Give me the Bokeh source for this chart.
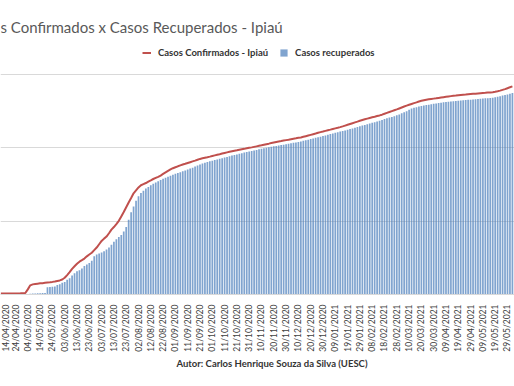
import pandas as pd
from bokeh.plotting import figure
from bokeh.models import (Range1d, FixedTicker, Grid, Label, Legend, LegendItem,
                          ColumnDataSource, DatetimeTickFormatter, Title)
from bokeh.embed import file_html
from bokeh.resources import INLINE

title_text = "s Confirmados x Casos Recuperados - Ipiaú"
author_text = "Autor: Carlos Henrique Souza da Silva  (UESC)"
series_names = ["Casos Confirmados - Ipiaú", "Casos recuperados"]

first_date = "2020-04-12"
step_days = 2

confirmados = [
    12, 12, 13, 13, 14, 14, 15, 15, 16, 18,
    21, 70, 125, 138, 144, 148, 152, 155, 159, 163,
    167, 172, 178, 185, 192, 205, 228, 265, 305, 350,
    385, 420, 448, 468, 490, 520, 545, 570, 605, 640,
    685, 730, 762, 790, 835, 885, 920, 960, 1005, 1065,
    1125, 1190, 1255, 1315, 1380, 1420, 1460, 1490, 1505, 1520,
    1540, 1557, 1575, 1590, 1605, 1622, 1644, 1665, 1685, 1705,
    1722, 1735, 1748, 1760, 1772, 1782, 1793, 1804, 1815, 1826,
    1838, 1849, 1857, 1865, 1872, 1880, 1889, 1897, 1905, 1913,
    1922, 1930, 1938, 1946, 1953, 1960, 1966, 1973, 1980, 1986,
    1993, 2000, 2006, 2013, 2020, 2027, 2034, 2042, 2050, 2057,
    2065, 2072, 2079, 2086, 2092, 2099, 2105, 2111, 2118, 2125,
    2130, 2136, 2141, 2150, 2159, 2168, 2177, 2186, 2195, 2205,
    2214, 2222, 2231, 2240, 2248, 2257, 2265, 2273, 2282, 2292,
    2303, 2314, 2325, 2336, 2347, 2358, 2370, 2380, 2389, 2398,
    2407, 2416, 2424, 2433, 2442, 2452, 2464, 2476, 2488, 2500,
    2512, 2524, 2537, 2550, 2563, 2575, 2587, 2598, 2609, 2620,
    2632, 2641, 2649, 2656, 2662, 2667, 2671, 2675, 2680, 2685,
    2690, 2695, 2700, 2705, 2710, 2713, 2717, 2721, 2724, 2727,
    2731, 2734, 2737, 2739, 2742, 2745, 2748, 2750, 2753, 2756,
    2759, 2765, 2772, 2780, 2790, 2800, 2813, 2826, 2838,
]

recuperados = [
    0, 0, 0, 0, 0, 0, 0, 0, 0, 0,
    5, 8, 10, 12, 14, 16, 18, 20, 22, 100,
    102, 105, 108, 130, 140, 160, 170, 200, 222, 260,
    290, 318, 332, 355, 390, 410, 430, 460, 520, 545,
    558, 572, 590, 615, 640, 680, 720, 755, 785, 810,
    860, 920, 1020, 1120, 1200, 1280, 1340, 1385, 1415, 1445,
    1465, 1490, 1510, 1528, 1545, 1562, 1580, 1592, 1605, 1620,
    1632, 1645, 1656, 1668, 1680, 1692, 1705, 1718, 1730, 1745,
    1760, 1772, 1785, 1797, 1808, 1816, 1825, 1833, 1842, 1850,
    1858, 1867, 1876, 1886, 1894, 1902, 1910, 1918, 1926, 1935,
    1943, 1950, 1957, 1965, 1972, 1979, 1987, 1994, 2001, 2008,
    2014, 2020, 2026, 2031, 2037, 2043, 2050, 2056, 2062, 2068,
    2074, 2080, 2086, 2095, 2103, 2111, 2120, 2128, 2136, 2144,
    2152, 2160, 2169, 2178, 2187, 2196, 2205, 2213, 2221, 2229,
    2238, 2247, 2256, 2265, 2274, 2284, 2294, 2303, 2313, 2322,
    2332, 2341, 2350, 2360, 2370, 2381, 2392, 2403, 2413, 2422,
    2432, 2443, 2456, 2470, 2485, 2500, 2518, 2535, 2545, 2555,
    2563, 2571, 2578, 2584, 2589, 2594, 2600, 2605, 2610, 2615,
    2620, 2624, 2628, 2632, 2635, 2638, 2642, 2645, 2648, 2651,
    2654, 2657, 2660, 2663, 2666, 2669, 2672, 2675, 2677, 2680,
    2683, 2690, 2697, 2705, 2713, 2720, 2728, 2737, 2746,
]

tick_labels = [
    "14/04/2020", "24/04/2020", "04/05/2020", "14/05/2020", "24/05/2020",
    "03/06/2020", "13/06/2020", "23/06/2020", "03/07/2020", "13/07/2020",
    "23/07/2020", "02/08/2020", "12/08/2020", "22/08/2020", "01/09/2020",
    "11/09/2020", "21/09/2020", "01/10/2020", "11/10/2020", "21/10/2020",
    "31/10/2020", "10/11/2020", "20/11/2020", "30/11/2020", "10/12/2020",
    "20/12/2020", "30/12/2020", "09/01/2021", "19/01/2021", "29/01/2021",
    "08/02/2021", "18/02/2021", "28/02/2021", "10/03/2021", "20/03/2021",
    "30/03/2021", "09/04/2021", "19/04/2021", "29/04/2021", "09/05/2021",
    "19/05/2021", "29/05/2021",
]
y_grid_values = [1000, 2000, 3000]

dates = pd.date_range(first_date, periods=len(confirmados), freq=f"{step_days}D")
source = ColumnDataSource(dict(date=dates, conf=confirmados, rec=recuperados))

tick_dates = pd.to_datetime(tick_labels, format="%d/%m/%Y")
tick_ms = [int(t.value // 10**6) for t in tick_dates]
DAY = 86400000

x0 = tick_dates[0] - pd.Timedelta(hours=2.2 * 24)
x1 = tick_dates[0] + pd.Timedelta(hours=415.7 * 24)

# frame spans the whole upper area; top gridline (3000) sits 74px below frame top
p = figure(width=514, height=386, output_backend="svg", toolbar_location=None,
           x_axis_type="datetime", y_axis_location=None,
           x_range=Range1d(x0, x1), y_range=Range1d(0, 4009),
           min_border_left=0, min_border_right=0, min_border_top=0,
           min_border_bottom=92)
p.outline_line_color = None
p.background_fill_color = "white"
p.xgrid.visible = False
for g in p.ygrid:
    g.visible = False
p.add_layout(Grid(dimension=1, ticker=FixedTicker(ticks=y_grid_values),
                  grid_line_color="#D9D9D9", grid_line_width=1))

bars = p.vbar(x="date", top="rec", width=1.4 * DAY, source=source,
              fill_color="#4F81BD", fill_alpha=0.72, line_color=None)
line = p.line(x="date", y="conf", source=source, line_color="#C0504D",
              line_width=2)

ax = p.xaxis[0]
ax.ticker = FixedTicker(ticks=tick_ms)
ax.formatter = DatetimeTickFormatter(days="%d/%m/%Y", months="%d/%m/%Y",
                                     years="%d/%m/%Y")
ax.major_label_overrides = {m: s for m, s in zip(tick_ms, tick_labels)}
ax.major_label_orientation = 3.14159265 / 2
ax.major_label_text_font = "Lato"
ax.major_label_text_font_size = "8.5px"
ax.major_label_text_color = "#404040"
ax.major_label_standoff = 4
ax.axis_line_color = "#D9D9D9"
ax.major_tick_line_color = None
ax.minor_tick_line_color = None

legend = Legend(items=[LegendItem(label=series_names[0], renderers=[line]),
                       LegendItem(label=series_names[1], renderers=[bars])],
                orientation="horizontal", location=(142, 236),
                padding=0, margin=0, spacing=11, label_standoff=7,
                glyph_width=9, glyph_height=9, label_height=12,
                label_text_font="Lato", label_text_font_style="bold",
                label_text_font_size="9.5px", label_text_color="#333333",
                border_line_color=None, background_fill_alpha=0)
p.add_layout(legend, "center")

p.add_layout(Label(x=0, y=268, x_units="screen", y_units="screen",
                   text=title_text, text_font="Lato", text_font_size="15px",
                   text_color="#595959", text_baseline="middle", text_align="left"))

p.add_layout(Title(text=author_text, align="left", offset=176, standoff=2,
                   text_font="Lato", text_font_style="bold",
                   text_font_size="9.5px", text_color="#333333"), "below")

open("out.html", "w").write(file_html(p, INLINE))
